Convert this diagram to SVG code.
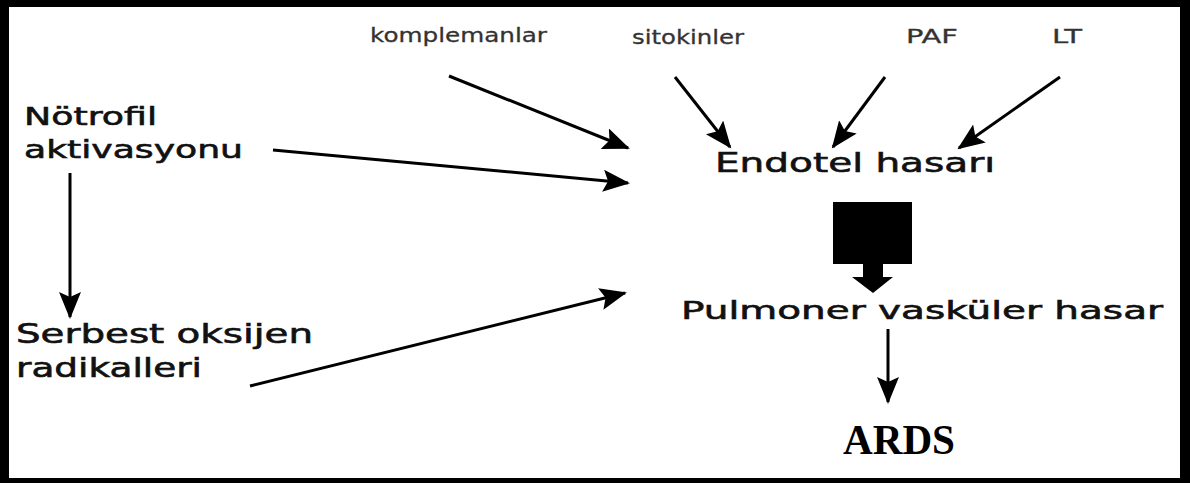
<svg xmlns="http://www.w3.org/2000/svg" width="1190" height="483" viewBox="0 0 1190 483">
  <style>
    .lbl { font-family: "DejaVu Sans", "Liberation Sans", sans-serif; fill: #111; stroke: #111; stroke-width: 0.6px; }
    .sm { font-size: 20px; fill: #333; stroke: #333; stroke-width: 0.3px; }
    .md { font-size: 25px; }
    .lg { font-size: 27px; }
    .title { font-family: "Liberation Serif", "Times New Roman", serif; font-weight: bold; font-size: 42px; fill: #000; }
    .arrow { stroke: #000; stroke-width: 3; fill: none; marker-end: url(#head); }
  </style>
  <defs>
    <marker id="head" markerUnits="userSpaceOnUse" markerWidth="30" markerHeight="24" viewBox="0 0 30 24" refX="25" refY="11" orient="auto">
      <path d="M0,0 L27,11 L0,22 L5,11 Z" fill="#000"/>
    </marker>
  </defs>

  <!-- frame -->
  <rect x="0" y="0" width="1190" height="483" fill="#000"/>
  <rect x="9" y="7" width="1171" height="471" fill="#fff"/>

  <!-- mediators -->
  <g id="komplemanlar"><text class="lbl sm" x="370" y="42" textLength="177" lengthAdjust="spacingAndGlyphs">komplemanlar</text></g>
  <g id="sitokinler"><text class="lbl sm" x="632" y="44" textLength="112" lengthAdjust="spacingAndGlyphs">sitokinler</text></g>
  <g id="paf"><text class="lbl sm" x="906" y="43" textLength="52" lengthAdjust="spacingAndGlyphs">PAF</text></g>
  <g id="lt"><text class="lbl sm" x="1052" y="43" textLength="30" lengthAdjust="spacingAndGlyphs">LT</text></g>

  <!-- left column -->
  <g id="notrofil">
    <text class="lbl md" x="24" y="125" textLength="133" lengthAdjust="spacingAndGlyphs">Nötrofil</text>
    <text class="lbl md" x="24" y="158" textLength="219" lengthAdjust="spacingAndGlyphs">aktivasyonu</text>
  </g>
  <g id="serbest">
    <text class="lbl lg" x="16" y="343" textLength="297" lengthAdjust="spacingAndGlyphs">Serbest oksijen</text>
    <text class="lbl lg" x="16" y="377" textLength="186" lengthAdjust="spacingAndGlyphs">radikalleri</text>
  </g>

  <!-- right column -->
  <g id="endotel"><text class="lbl lg" x="715" y="172" textLength="280" lengthAdjust="spacingAndGlyphs">Endotel hasarı</text></g>
  <g id="pulmoner"><text class="lbl md" x="681" y="319" textLength="482" lengthAdjust="spacingAndGlyphs">Pulmoner vasküler hasar</text></g>
  <g id="ards"><text class="title" x="843" y="454" textLength="112" lengthAdjust="spacingAndGlyphs">ARDS</text></g>

  <!-- connectors -->
  <g id="connectors">
    <line class="arrow" x1="449" y1="76" x2="628" y2="148"/>
    <line class="arrow" x1="675" y1="77" x2="730" y2="147"/>
    <line class="arrow" x1="885" y1="77" x2="833" y2="147"/>
    <line class="arrow" x1="1060" y1="77" x2="959" y2="148"/>
    <line class="arrow" x1="273" y1="150" x2="628" y2="183"/>
    <line class="arrow" x1="70" y1="173" x2="70" y2="317"/>
    <line class="arrow" x1="250" y1="386" x2="625" y2="293"/>
    <line class="arrow" x1="888" y1="329" x2="888" y2="402"/>
    <!-- block arrow from Endotel hasarı to Pulmoner vasküler hasar -->
    <path d="M833,202 H912 V264 H883 V277 H893 L873,293 L852,277 H863 V264 H833 Z" fill="#000"/>
  </g>
</svg>
